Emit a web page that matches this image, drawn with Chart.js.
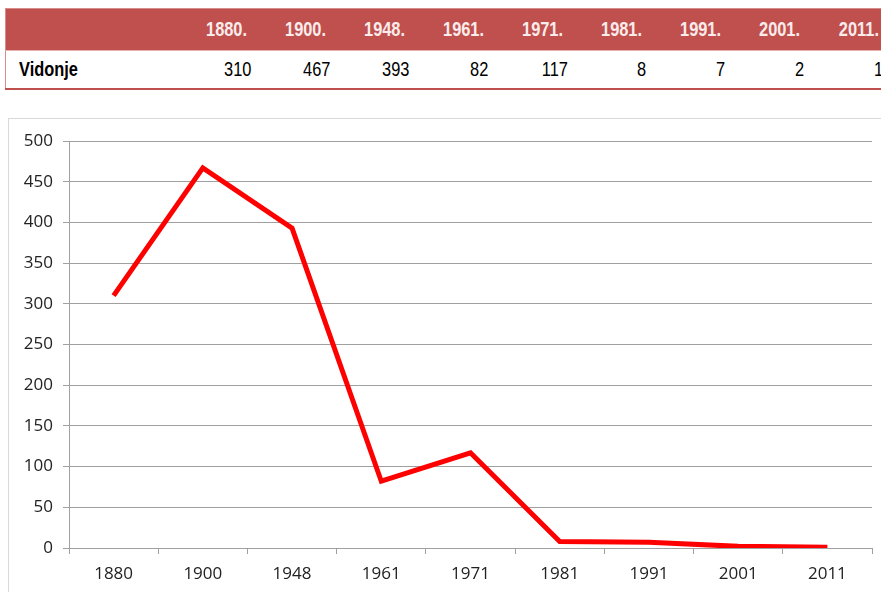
<!DOCTYPE html>
<html>
<head>
<meta charset="utf-8">
<script src="https://cdn.jsdelivr.net/npm/chart.js@4.4.1/dist/chart.umd.min.js"></script>
<style>
  body { margin: 0; background: #fff; width: 881px; height: 592px; overflow: hidden; position: relative; }
  #tbl {
    position: absolute; left: 5px; top: 8px; width: 891px;
    border-collapse: collapse; table-layout: fixed;
    font-family: "Liberation Sans", Arial, sans-serif;
    font-size: 20px;
    border: 1px solid #d88c8a;
    border-bottom: 2px solid #c0504d;
  }
  #tbl th { background: #c0504d; color: #fbecec; font-weight: bold; text-align: right; padding: 0 6px 0 0; height: 41px; border-bottom: 1px solid #e6b0ae; }
  #tbl td { text-align: right; padding: 0 2px 0 0; height: 37px; color: #000; }
  #tbl td.name { text-align: left; font-weight: bold; padding-left: 13px; }
  .uski { display: inline-block; transform: scaleX(0.82); }
  #tbl th .uski { transform-origin: right center; }
  #tbl td .uski { transform-origin: right center; }
  #tbl td.name .uski { transform-origin: left center; }
  #box { position: absolute; left: 8px; top: 118px; width: 900px; height: 500px; border: 1px solid #d9d9d9; }
  #wrap { position: absolute; left: 9px; top: 119px; width: 880px; height: 473px; }
</style>
</head>
<body>
<table id="tbl">
  <colgroup>
    <col style="width:169px">
    <col style="width:79px"><col style="width:79px"><col style="width:79px">
    <col style="width:79px"><col style="width:79px"><col style="width:79px">
    <col style="width:79px"><col style="width:79px"><col style="width:90px">
  </colgroup>
  <thead><tr id="headRow"><th></th></tr></thead>
  <tbody><tr id="dataRow"><td class="name"><span class="uski">Vidonje</span></td></tr></tbody>
</table>
<div id="box"></div>
<div id="wrap"><canvas id="chart1"></canvas></div>
<script>
const godine = ["1880", "1900", "1948", "1961", "1971", "1981", "1991", "2001", "2011"];
const stanovnici = [310, 467, 393, 82, 117, 8, 7, 2, 1];
const yTicks = [0, 50, 100, 150, 200, 250, 300, 350, 400, 450, 500];

// tablica
const headRow = document.getElementById("headRow");
const dataRow = document.getElementById("dataRow");
godine.forEach((g, i) => {
  const th = document.createElement("th");
  th.innerHTML = `<span class="uski">${g}.</span>`;
  headRow.appendChild(th);
  const td = document.createElement("td");
  td.innerHTML = `<span class="uski">${stanovnici[i]}</span>`;
  if (i === godine.length - 1) {
    th.style.paddingRight = "17px";
    td.style.paddingRight = "13px";
  }
  dataRow.appendChild(td);
});

// grafikon
const ctx1 = document.getElementById("chart1");
const font = { family: "'Open Sans', 'Noto Sans', sans-serif", size: 17 };

new Chart(ctx1, {
  type: "line",
  data: {
    labels: godine,
    datasets: [
      {
        label: "Vidonje",
        data: stanovnici,
        borderColor: "#ff0000",
        borderWidth: 5,
        pointRadius: 0,
        tension: 0,
        fill: false,
      },
    ],
  },
  options: {
    responsive: true,
    maintainAspectRatio: false,
    animation: false,
    layout: { padding: { left: 0, top: 22, right: 17, bottom: 0 } },
    plugins: {
      legend: { display: false },
      tooltip: { enabled: false },
    },
    scales: {
      x: {
        offset: true,
        grid: {
          offset: true,
          drawOnChartArea: false,
          drawTicks: true,
          tickLength: 6,
          color: "#a0a0a0",
        },
        border: { color: "#a0a0a0", width: 1 },
        ticks: { color: "#222", font: font, padding: 10, maxRotation: 0 },
        afterFit: (scale) => { scale.height = 44; },
      },
      y: {
        min: 0,
        max: 500,
        afterBuildTicks: (scale) => { scale.ticks = yTicks.map((v) => ({ value: v })); },
        grid: { color: "#a0a0a0", tickLength: 6 },
        border: { color: "#a0a0a0", width: 1 },
        ticks: { color: "#222", font: font, padding: 10 },
        afterFit: (scale) => { scale.width = 60; },
      },
    },
  },
});
</script>
</body>
</html>
